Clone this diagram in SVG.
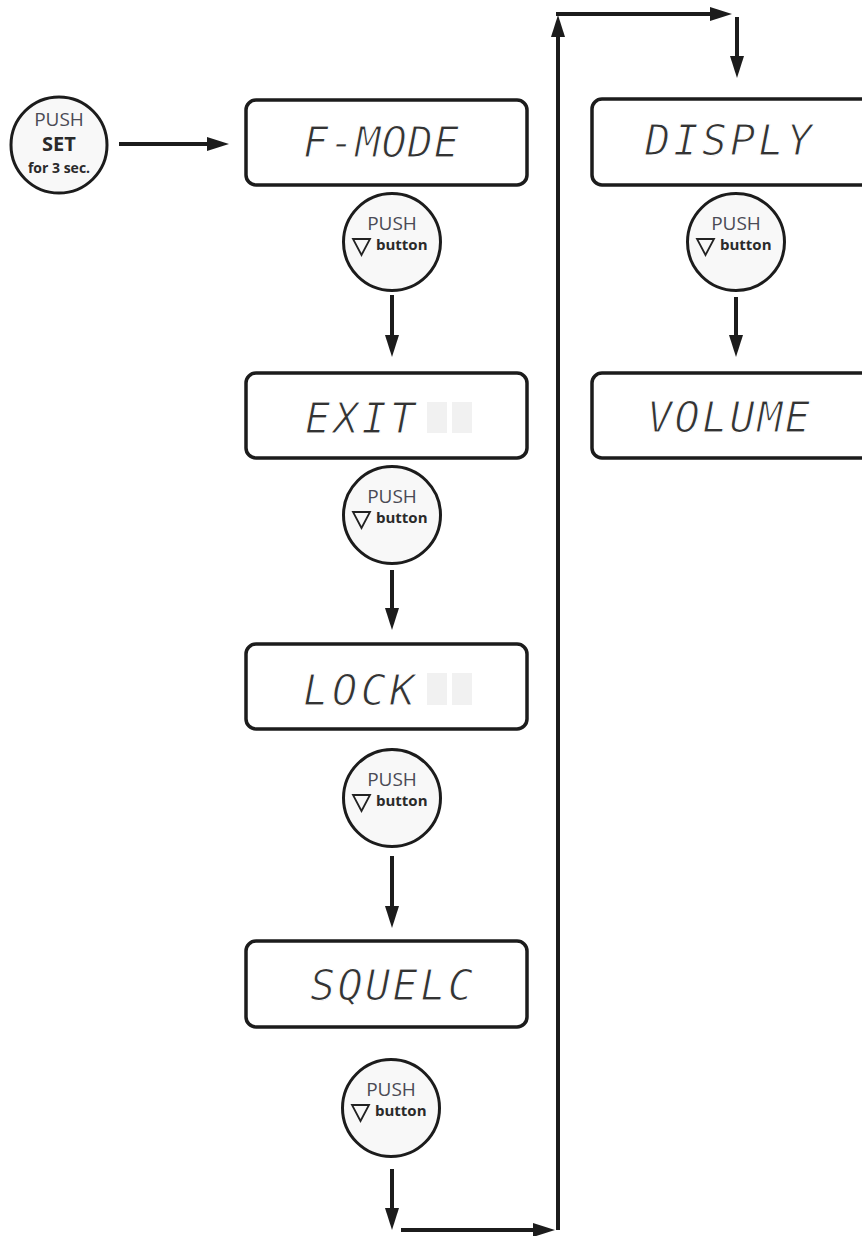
<svg xmlns="http://www.w3.org/2000/svg" width="862" height="1236" viewBox="0 0 862 1236">
<style>
.box{fill:#fff;stroke:#1c1c1c;stroke-width:3.5}
.btn{fill:#f8f8f8;stroke:#1c1c1c;stroke-width:3}
.lcd{font-family:"DejaVu Sans Mono",monospace;font-style:oblique;font-size:42px;fill:#333;stroke:#fff;stroke-width:1.2}
.ghost{fill:#f1f1f1}
.push{font-family:"Open Sans","Liberation Sans",sans-serif;font-size:19px;fill:#4a4a55;text-anchor:middle}
.bt{font-family:"Open Sans","Liberation Sans",sans-serif;font-size:15px;font-weight:bold;fill:#2a2a2a}
.tri{fill:none;stroke:#222;stroke-width:1.8;stroke-linejoin:miter}
.set{font-family:"Open Sans","Liberation Sans",sans-serif;font-weight:bold;fill:#2a2a2a;text-anchor:middle}
.conn{fill:none;stroke:#1c1c1c;stroke-width:4}
</style>
<defs>
<marker id="ah" markerUnits="userSpaceOnUse" markerWidth="24" markerHeight="16" refX="12" refY="7" orient="auto">
<path d="M0,0 L22,7 L0,14 z" fill="#1c1c1c"/>
</marker>
</defs>
<rect width="862" height="1236" fill="#fff"/>

<g id="push-set">
<circle class="btn" cx="59" cy="145" r="48"/>
<text class="push" x="59" y="126">PUSH</text>
<text class="set" x="59" y="151" font-size="20">SET</text>
<text class="set" x="59" y="173" font-size="14">for 3 sec.</text>
</g>

<g id="f-mode">
<rect class="box" x="246" y="100" width="281" height="85" rx="10"/>
<text class="lcd" x="303" y="157" textLength="156">F-MODE</text>
</g>

<g id="btn1">
<circle class="btn" cx="392" cy="242" r="48.5"/>
<text class="push" x="392" y="230">PUSH</text>
<polygon class="tri" points="353,239 370,239 361.5,255"/>
<text class="bt" x="376" y="250">button</text>
</g>

<g id="exit">
<rect class="box" x="246" y="373" width="281" height="85" rx="10"/>
<rect class="ghost" x="427" y="402" width="20" height="31"/>
<rect class="ghost" x="452" y="402" width="20" height="31"/>
<text class="lcd" x="305" y="433" textLength="110">EXIT</text>
</g>

<g id="btn2">
<circle class="btn" cx="392" cy="515" r="48.5"/>
<text class="push" x="392" y="503">PUSH</text>
<polygon class="tri" points="353,512 370,512 361.5,528"/>
<text class="bt" x="376" y="523">button</text>
</g>

<g id="lock">
<rect class="box" x="246" y="644" width="281" height="85" rx="10"/>
<rect class="ghost" x="427" y="673" width="20" height="32"/>
<rect class="ghost" x="452" y="673" width="20" height="32"/>
<text class="lcd" x="303" y="705" textLength="112">LOCK</text>
</g>

<g id="btn3">
<circle class="btn" cx="392" cy="798" r="48.5"/>
<text class="push" x="392" y="786">PUSH</text>
<polygon class="tri" points="353,795 370,795 361.5,811"/>
<text class="bt" x="376" y="806">button</text>
</g>

<g id="squelc">
<rect class="box" x="246" y="941" width="281" height="86" rx="10"/>
<text class="lcd" x="310" y="1000" textLength="163">SQUELC</text>
</g>

<g id="btn4">
<circle class="btn" cx="391" cy="1108" r="48.5"/>
<text class="push" x="391" y="1096">PUSH</text>
<polygon class="tri" points="352,1105 369,1105 360.5,1121"/>
<text class="bt" x="375" y="1116">button</text>
</g>

<g id="disply">
<rect class="box" x="592" y="99" width="290" height="86" rx="10"/>
<text class="lcd" x="645" y="155" textLength="167">DISPLY</text>
</g>

<g id="btn5">
<circle class="btn" cx="736" cy="242" r="48.5"/>
<text class="push" x="736" y="230">PUSH</text>
<polygon class="tri" points="697,239 714,239 705.5,255"/>
<text class="bt" x="720" y="250">button</text>
</g>

<g id="volume">
<rect class="box" x="592" y="373" width="290" height="85" rx="10"/>
<text class="lcd" x="647" y="432" textLength="163">VOLUME</text>
</g>

<g id="connectors">
<line class="conn" x1="119" y1="144" x2="219" y2="144" marker-end="url(#ah)"/>
<line class="conn" x1="392" y1="295" x2="392" y2="347" marker-end="url(#ah)"/>
<line class="conn" x1="392" y1="570" x2="392" y2="620" marker-end="url(#ah)"/>
<line class="conn" x1="392" y1="856" x2="392" y2="918" marker-end="url(#ah)"/>
<line class="conn" x1="392" y1="1169" x2="392" y2="1220" marker-end="url(#ah)"/>
<line class="conn" x1="401" y1="1230" x2="545" y2="1230" marker-end="url(#ah)"/>
<line class="conn" x1="558" y1="1230" x2="558" y2="25" marker-end="url(#ah)"/>
<line class="conn" x1="556" y1="14" x2="722" y2="14" marker-end="url(#ah)"/>
<line class="conn" x1="737" y1="17" x2="737" y2="68" marker-end="url(#ah)"/>
<line class="conn" x1="736" y1="297" x2="736" y2="347" marker-end="url(#ah)"/>
</g>
</svg>
